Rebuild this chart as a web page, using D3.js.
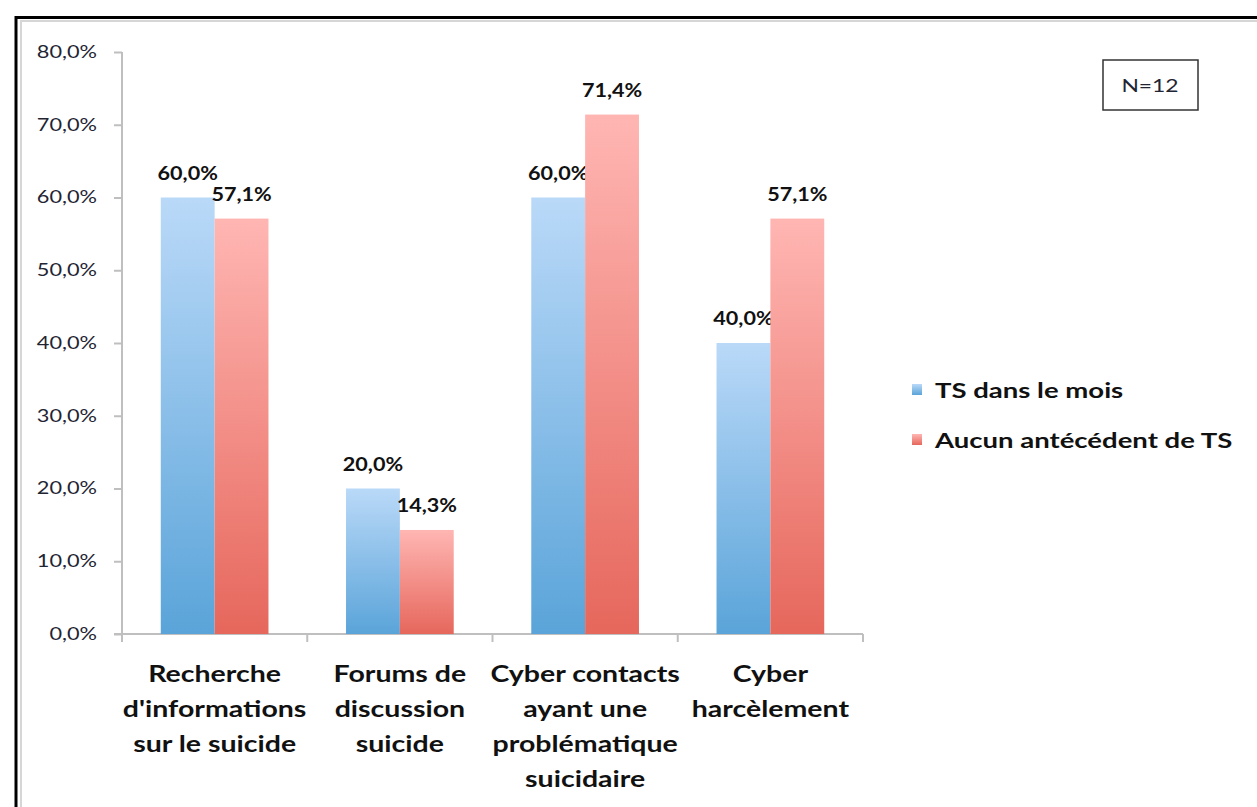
<!DOCTYPE html>
<html>
<head>
<meta charset="utf-8">
<script src="https://cdn.jsdelivr.net/npm/d3@7"></script>
<style>
  body { margin: 0; background: #fff; }
  svg { display: block; }
</style>
</head>
<body>
<script>
// Data
const categories = [
    "Recherche d'informations sur le suicide",
    "Forums de discussion suicide",
    "Cyber contacts ayant une problématique suicidaire",
    "Cyber harcèlement"
];
const categoryLines = [
    ["Recherche", "d'informations", "sur le suicide"],
    ["Forums de", "discussion", "suicide"],
    ["Cyber contacts", "ayant une", "problématique", "suicidaire"],
    ["Cyber", "harcèlement"]
];
const seriesNames = ["TS dans le mois", "Aucun antécédent de TS"];
const tsMois = [0.600, 0.200, 0.600, 0.400];
const aucunTS = [0.571, 0.143, 0.714, 0.571];
const yTicks = [0, 0.1, 0.2, 0.3, 0.4, 0.5, 0.6, 0.7, 0.8];
const sampleNote = "N=12";

const width = 1257, height = 807;
const font = "Lato, 'Open Sans', sans-serif";

// the source picture is stretched sideways, so text is widened a bit
const stretch = (sx) => (x, yy) => `translate(${x},${yy}) scale(${sx},1)`;
const wideTick = stretch(1.28);
const wideData = stretch(1.2);
const wideCat = stretch(1.24);
const wideLegend = stretch(1.31);
const wideNote = stretch(1.27);

const svg = d3.select("body").append("svg")
    .attr("width", width)
    .attr("height", height);

// Gradients for the bars (light at top, darker at bottom)
const defs = svg.append("defs");
const grads = [
    { id: "gBlue", top: "#bad9f8", bottom: "#5aa4d9" },
    { id: "gRed", top: "#ffb6b3", bottom: "#e6675c" }
];
grads.forEach(g => {
    const lg = defs.append("linearGradient")
        .attr("id", g.id)
        .attr("x1", 0).attr("y1", 0)
        .attr("x2", 0).attr("y2", 1);
    lg.append("stop").attr("offset", "0%").attr("stop-color", g.top);
    lg.append("stop").attr("offset", "100%").attr("stop-color", g.bottom);
});

// Frame around the chart (runs off the right and bottom)
svg.append("rect")
    .attr("x", 21).attr("y", 21)
    .attr("width", 1300).attr("height", 900)
    .style("fill", "none")
    .style("stroke", "#d6d6d6")
    .style("stroke-width", 2);
svg.append("rect")
    .attr("x", 16).attr("y", 17.5)
    .attr("width", 1300).attr("height", 900)
    .style("fill", "none")
    .style("stroke", "#000")
    .style("stroke-width", 3);

// Scales
const x0 = d3.scaleBand()
    .domain(categories)
    .range([122, 863])
    .paddingInner(0)
    .paddingOuter(0);

const x1 = d3.scaleBand()
    .domain(seriesNames)
    .range([0, x0.bandwidth()])
    .paddingInner(0)
    .paddingOuter(0.72);

const y = d3.scaleLinear()
    .domain([0, 0.8])
    .range([634, 52]);

const pct = d => d3.format(".1f")(d * 100).replace(".", ",") + "%";

// Y axis
const yAxis = svg.append("g")
    .attr("transform", "translate(122,0)")
    .call(d3.axisLeft(y).tickValues(yTicks).tickSize(8).tickFormat(pct));
yAxis.select(".domain").attr("d", `M0,${y(0.8)}H0V${y(0)}`)
    .style("stroke", "#bfbfbf").style("stroke-width", 2);
yAxis.selectAll(".tick line").style("stroke", "#bfbfbf").style("stroke-width", 2);
yAxis.selectAll(".tick text")
    .attr("x", 0)
    .attr("transform", wideTick(-25, 0))
    .style("font-family", font)
    .style("font-size", "17px")
    .style("fill", "#1f2533");

// X axis line + boundary ticks
const xAxis = svg.append("g");
xAxis.append("line")
    .attr("x1", 114).attr("x2", x0.range()[1])
    .attr("y1", y(0)).attr("y2", y(0))
    .style("stroke", "#bfbfbf").style("stroke-width", 2);
const bounds = categories.map(c => x0(c)).concat([x0.range()[1]]);
xAxis.selectAll(".bt").data(bounds).enter().append("line")
    .attr("x1", d => d).attr("x2", d => d)
    .attr("y1", y(0)).attr("y2", y(0) + 8)
    .style("stroke", "#bfbfbf").style("stroke-width", 2);

// Bars
const seriesValues = [tsMois, aucunTS];
const fills = ["url(#gBlue)", "url(#gRed)"];

seriesNames.forEach((s, si) => {
    svg.append("g").selectAll("rect")
        .data(seriesValues[si])
        .enter().append("rect")
        .attr("x", (d, i) => x0(categories[i]) + x1(s))
        .attr("y", d => y(d))
        .attr("width", x1.bandwidth())
        .attr("height", d => y(0) - y(d))
        .style("fill", fills[si]);

    svg.append("g").selectAll("text")
        .data(seriesValues[si])
        .enter().append("text")
        .attr("transform", (d, i) => wideData(x0(categories[i]) + x1(s) + x1.bandwidth() / 2, y(d) - 18))
        .attr("text-anchor", "middle")
        .style("font-family", font)
        .style("font-weight", "bold")
        .style("font-size", "18px")
        .style("fill", "#111")
        .text(d => pct(d));
});

// Category labels
categories.forEach((c, i) => {
    const t = svg.append("text")
        .attr("transform", wideCat(x0(c) + x0.bandwidth() / 2, 682))
        .attr("text-anchor", "middle")
        .style("font-family", font)
        .style("font-weight", "bold")
        .style("font-size", "23px")
        .style("fill", "#111");
    categoryLines[i].forEach((line, li) => {
        t.append("tspan")
            .attr("x", 0)
            .attr("y", li * 35)
            .text(line);
    });
});

// Legend
const legend = svg.append("g");
seriesNames.forEach((s, i) => {
    legend.append("rect")
        .attr("x", 912).attr("y", 384 + i * 50)
        .attr("width", 10).attr("height", 11)
        .style("fill", fills[i]);
    legend.append("text")
        .attr("transform", wideLegend(935, 398 + i * 50))
        .style("font-family", font)
        .style("font-weight", "bold")
        .style("font-size", "21px")
        .style("fill", "#111")
        .text(s);
});

// N=12 box
svg.append("rect")
    .attr("x", 1103).attr("y", 60)
    .attr("width", 95).attr("height", 50)
    .style("fill", "#fff")
    .style("stroke", "#333")
    .style("stroke-width", 1.5);
svg.append("text")
    .attr("transform", wideNote(1150, 92))
    .attr("text-anchor", "middle")
    .style("font-family", font)
    .style("font-size", "18px")
    .style("fill", "#1f2533")
    .text(sampleNote);
</script>
</body>
</html>
